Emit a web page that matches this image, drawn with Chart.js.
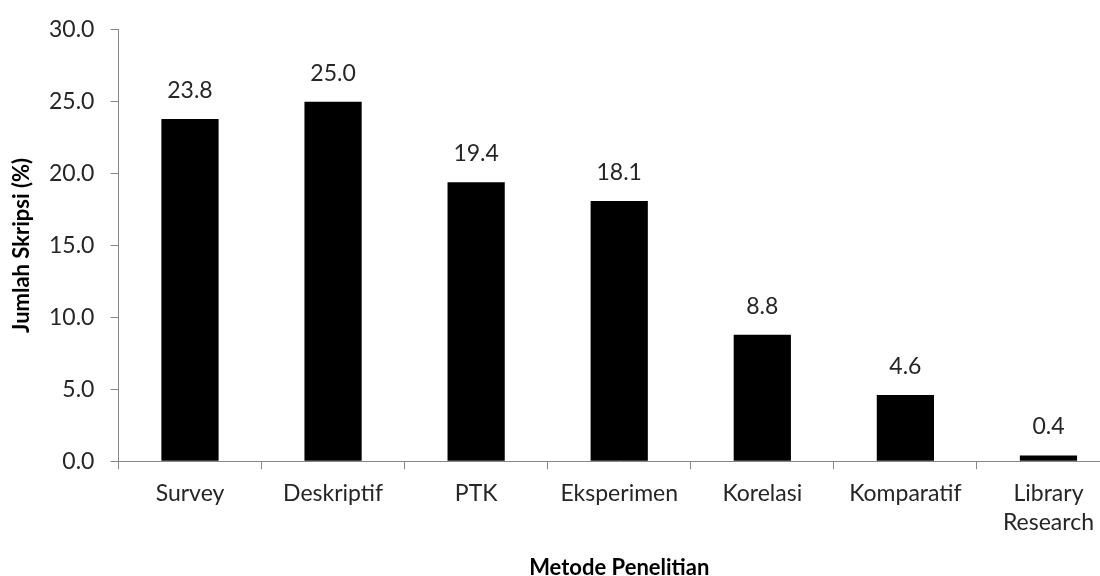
<!DOCTYPE html>
<html>
<head>
<meta charset="utf-8">
<script src="https://cdn.jsdelivr.net/npm/chart.js@4/dist/chart.umd.min.js"></script>
<style>
  html, body { margin: 0; padding: 0; background: #fff; overflow: hidden; }
  #wrap { width: 1120px; height: 576px; position: relative; }
</style>
</head>
<body>
<div id="wrap"><canvas id="metodeChart"></canvas></div>
<script>
const categories = ['Survey', 'Deskriptif', 'PTK', 'Eksperimen', 'Korelasi', 'Komparatif', ['Library', 'Research']];
const percentages = [23.8, 25.0, 19.4, 18.1, 8.8, 4.6, 0.4];
const yTicks = [0, 5, 10, 15, 20, 25, 30];

const textColor = '#262626';
const axisColor = '#868686';
const font = "Lato, 'Open Sans', sans-serif";

// value labels above each bar
const labelPlugin = {
    id: 'barLabels',
    afterDatasetsDraw(chart) {
        const ctx = chart.ctx;
        const meta = chart.getDatasetMeta(0);
        ctx.save();
        ctx.fillStyle = textColor;
        ctx.font = '23px ' + font;
        ctx.textAlign = 'center';
        ctx.textBaseline = 'alphabetic';
        meta.data.forEach(function(bar, i) {
            ctx.fillText(percentages[i].toFixed(1), bar.x, bar.y - 21);
        });
        ctx.restore();
    }
};

const ctx = document.getElementById('metodeChart');
new Chart(ctx, {
    type: 'bar',
    data: {
        labels: categories,
        datasets: [{
            data: percentages,
            backgroundColor: '#000000',
            barPercentage: 0.8,
            categoryPercentage: 0.5
        }]
    },
    options: {
        responsive: true,
        maintainAspectRatio: false,
        animation: false,
        layout: { padding: { top: 12, left: 2, right: 0, bottom: -3 } },
        plugins: {
            legend: { display: false },
            tooltip: { enabled: false }
        },
        scales: {
            x: {
                offset: true,
                grid: {
                    display: true,
                    drawOnChartArea: false,
                    offset: true,
                    color: axisColor,
                    tickLength: 8
                },
                border: { color: axisColor, width: 1 },
                ticks: {
                    color: textColor,
                    font: { family: font, size: 23, lineHeight: 1.3 },
                    padding: 9,
                    maxRotation: 0
                },
                title: {
                    display: true,
                    text: 'Metode Penelitian',
                    color: '#000',
                    font: { family: font, size: 22, weight: 'bold', lineHeight: 1.0 },
                    padding: { top: 10, bottom: 0 }
                }
            },
            y: {
                min: 0,
                max: 30,
                afterBuildTicks(scale) {
                    scale.ticks = yTicks.map(v => ({ value: v }));
                },
                grid: {
                    drawOnChartArea: false,
                    color: axisColor,
                    tickLength: 8
                },
                border: { color: axisColor, width: 1 },
                ticks: {
                    color: textColor,
                    font: { family: font, size: 23 },
                    padding: 16,
                    callback: v => v.toFixed(1)
                },
                title: {
                    display: true,
                    text: 'Jumlah Skripsi (%)',
                    color: '#000',
                    font: { family: font, size: 22, weight: 'bold', lineHeight: 1.0 },
                    padding: { top: 9, bottom: 0 }
                }
            }
        }
    },
    plugins: [labelPlugin]
});
</script>
</body>
</html>
